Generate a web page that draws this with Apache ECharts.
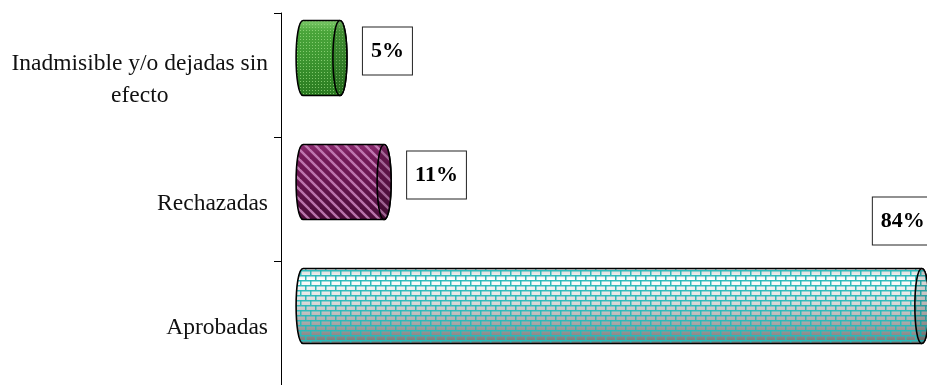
<!DOCTYPE html>
<html><head><meta charset="utf-8">
<script src="https://cdn.jsdelivr.net/npm/echarts@6/dist/echarts.min.js"></script>
<style>html,body{margin:0;padding:0;background:#fff}#c{width:927px;height:385px}</style>
</head><body><div id="c"></div>
<script>
// ---- data ----
const categories = ['Inadmisible y/o dejadas sin\nefecto', 'Rechazadas', 'Aprobadas'];
const values = [5, 11, 84];
const valueLabels = ['5%', '11%', '84%'];

// ---- patterns ----
function mk(w, h, draw) { const c = document.createElement('canvas'); c.width = w; c.height = h; draw(c.getContext('2d')); return c; }
const dotPat = mk(3, 3, g => { g.fillStyle = 'rgba(160,225,135,0.7)'; g.fillRect(0, 0, 1, 1); });
const stripePat = mk(10, 10, g => {
  g.strokeStyle = 'rgba(205,135,190,0.85)'; g.lineWidth = 2.4;
  for (let k = -10; k <= 10; k += 10) { g.beginPath(); g.moveTo(k - 2, -2); g.lineTo(k + 12, 12); g.stroke(); }
});
const brickPat = mk(10, 10, g => {
  g.fillStyle = 'rgba(40,185,185,0.95)';
  g.fillRect(0, 0, 10, 1.5); g.fillRect(0, 5, 10, 1.5);
  g.fillRect(0, 0, 1.5, 5); g.fillRect(5, 5, 1.5, 5);
});

const styles = [
  { grad: ['#7cc86a', '#4aa53a', '#3f9a32', '#2a7a20'], pat: dotPat },
  { grad: ['#8a2c70', '#741a58', '#6a1651', '#4a0c38'], pat: stripePat },
  { grad: ['#d4d4d4', '#ffffff', '#dadada', '#777777'], pat: brickPat }
];
function grad(c) {
  return { type: 'linear', x: 0, y: 0, x2: 0, y2: 1,
    colorStops: [{ offset: 0, color: c[0] }, { offset: 0.15, color: c[1] }, { offset: 0.45, color: c[2] }, { offset: 1, color: c[3] }] };
}

function renderItem(params, api) {
  const v = api.value(0), i = api.value(1);
  const p0 = api.coord([0, i]), p1 = api.coord([v, i]);
  const band = api.size([0, 1])[1];
  const h = band * 0.605;
  const yc = p0[1] - band * 0.137;
  const yt = yc - h / 2, yb = yc + h / 2;
  const xs = p0[0], xe = p1[0];
  const rx = 7, k = 1.333 * rx;
  const body = `M${xs},${yt} L${xe},${yt} C${xe + k},${yt} ${xe + k},${yb} ${xe},${yb} L${xs},${yb} C${xs - k},${yb} ${xs - k},${yt} ${xs},${yt} Z`;
  const cap = `M${xe},${yt} C${xe + k},${yt} ${xe + k},${yb} ${xe},${yb} C${xe - k},${yb} ${xe - k},${yt} ${xe},${yt} Z`;
  const st = styles[i];
  const children = [
    { type: 'path', shape: { pathData: body }, style: { fill: grad(st.grad) } },
    { type: 'path', shape: { pathData: body }, style: { fill: { image: st.pat, repeat: 'repeat' }, stroke: '#000', lineWidth: 1.6 } },
    { type: 'path', shape: { pathData: cap }, style: { fill: grad(st.grad) } },
    { type: 'path', shape: { pathData: cap }, style: { fill: { image: st.pat, repeat: 'repeat' } } },
    { type: 'path', shape: { pathData: cap }, style: { fill: 'rgba(0,0,0,0.15)', stroke: '#000', lineWidth: 1.6 } }
  ];
  const txt = valueLabels[i];
  const estW = txt.length * 13 + 22;
  let lx, ly, va;
  if (xe + 24 + estW > api.getWidth()) { lx = xe - 49; ly = yt - 24; va = 'bottom'; }
  else { lx = xe + 23; ly = yc - 7; va = 'middle'; }
  children.push({
    type: 'text', x: lx, y: ly,
    style: { text: txt, fontFamily: '"Liberation Serif","Times New Roman",serif', fontWeight: 'bold', fontSize: 22,
      fill: '#000', align: 'left', verticalAlign: va, backgroundColor: '#fff', borderColor: '#222', borderWidth: 1,
      padding: [13, 8, 12, 8] }
  });
  return { type: 'group', children };
}

const chart = echarts.init(document.getElementById('c'), null, { renderer: 'canvas' });
chart.setOption({
  animation: false,
  grid: { left: 281, right: 0, top: 13, bottom: 0, containLabel: false },
  xAxis: { type: 'value', min: -3, max: 84.7, show: false },
  yAxis: {
    type: 'category', data: categories, inverse: true,
    axisLine: { show: true, onZero: false, lineStyle: { color: '#000', width: 1 } },
    axisTick: { show: true, length: 7, lineStyle: { color: '#000' } },
    axisLabel: {
      margin: 13, align: 'right', padding: [10, 0, 0, 0],
      formatter: v => v.split('\n').map(s => '{c|' + s + '}').join('\n'),
      rich: { c: { align: 'center', fontFamily: '"Liberation Serif","Times New Roman",serif', fontSize: 23.5, lineHeight: 32, color: '#111' } }
    },
    splitLine: { show: false }
  },
  series: [{
    type: 'custom', renderItem, clip: false,
    encode: { x: 0, y: 1 },
    data: values.map((v, i) => [v, i])
  }]
});
</script></body></html>
